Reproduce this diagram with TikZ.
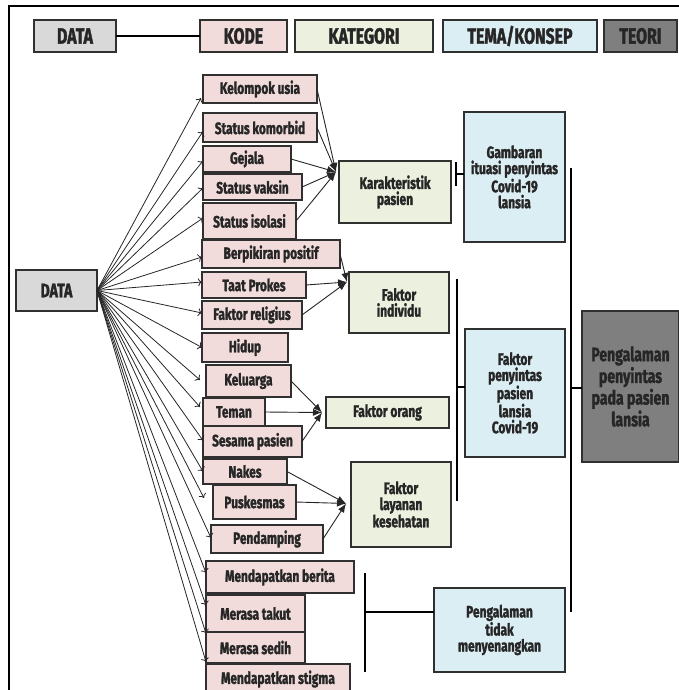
\documentclass[tikz,border=0pt]{standalone}
\usepackage{fontspec}
\setmainfont{Fira Sans}[FakeStretch=0.72, BoldFont=* Bold, BoldFeatures={FakeBold=1.6}]
\usetikzlibrary{arrows.meta,shadows,calc}

\definecolor{inkc}{HTML}{262626}
\definecolor{framec}{HTML}{303030}
\definecolor{datafill}{HTML}{D9D9D9}
\definecolor{kodefill}{HTML}{F2DCDB}
\definecolor{katfill}{HTML}{EBF1DE}
\definecolor{temafill}{HTML}{DBEEF4}
\definecolor{teorifill}{HTML}{7F7F7F}

\newcommand{\fsHead}{\fontsize{22}{24}\selectfont}
\newcommand{\fsData}{\fontsize{19.5}{21}\selectfont}
\newcommand{\fsCode}{\fontsize{16.5}{18}\selectfont}
\newcommand{\fsKat}{\fontsize{16.6}{16}\selectfont}
\newcommand{\fsTeori}{\fontsize{19.5}{21.7}\selectfont}

\tikzset{
  box/.style={draw=framec, line width=1.2pt, anchor=north west,
    inner sep=0pt, outer sep=0pt, align=center, text=inkc,
    drop shadow={shadow xshift=1.4pt, shadow yshift=-1.4pt, opacity=0.3}},
  headbox/.style={box, font=\fsHead\bfseries, minimum height=32pt},
  codebox/.style={box, fill=kodefill, font=\fsCode\bfseries},
  katbox/.style={box, fill=katfill, font=\fsKat\bfseries},
  temabox/.style={box, fill=temafill, font=\fsKat\bfseries},
  dataarrow/.style={draw=black!85, line width=0.8pt, -{To[length=4pt,width=8pt]}},
  katarrow/.style={draw=black!85, line width=0.9pt, -{Latex[length=9pt,width=7pt]}},
  brk/.style={draw=black, line width=1.9pt},
  hline/.style={draw=black, line width=1.3pt},
}

\begin{document}
\begin{tikzpicture}[x=1pt,y=-1pt]
\useasboundingbox (0,0) rectangle (679,690);

% outer frame (left and top edges)
\draw[line width=1.6pt] (9,700) -- (9,6) -- (700,6);

% column headers
\node[headbox, fill=datafill, minimum width=82pt] (hData) at (34,20) {DATA};
\node[headbox, fill=kodefill, minimum width=87pt] (hKode) at (200,20) {KODE};
\node[headbox, fill=katfill, minimum width=138pt] (hKat) at (295,20) {KATEGORI};
\node[headbox, fill=temafill, minimum width=154pt] (hTema) at (443,20) {TEMA/KONSEP};
\node[headbox, fill=teorifill, minimum width=73pt] (hTeori) at (604,20) {TEORI};
\draw[hline] (hData.east) -- (hKode.west);

% data source
\node[box, fill=datafill, font=\fsData\bfseries, minimum width=81pt, minimum height=41pt] (data) at (16,270) {DATA};

% codes
\node[codebox, minimum width=114pt, minimum height=28pt] (k1) at (203,75) {Kelompok usia};
\node[codebox, minimum width=114pt, minimum height=29pt] (k2) at (203,113) {Status komorbid};
\node[codebox, minimum width=88pt, minimum height=26pt] (k3) at (203,146) {Gejala};
\node[codebox, minimum width=99pt, minimum height=26pt] (k4) at (203,174) {Status vaksin};
\node[codebox, minimum width=93pt, minimum height=36pt] (k5) at (203,203) {Status isolasi};
\node[codebox, minimum width=138pt, minimum height=28pt] (k6) at (202,240) {Berpikiran positif};
\node[codebox, minimum width=104pt, minimum height=26pt] (k7) at (202,272) {Taat Prokes};
\node[codebox, minimum width=100pt, minimum height=28pt] (k8) at (202,301) {Faktor religius};
\node[codebox, minimum width=86pt, minimum height=29pt] (k9) at (202,333) {Hidup};
\node[codebox, minimum width=85pt, minimum height=32pt] (k10) at (206,365) {Keluarga};
\node[codebox, minimum width=62pt, minimum height=28pt] (k11) at (203,398) {Teman};
\node[codebox, minimum width=99pt, minimum height=31pt] (k12) at (203,426) {Sesama pasien};
\node[codebox, minimum width=84pt, minimum height=25pt] (k13) at (203,459) {Nakes};
\node[codebox, minimum width=83pt, minimum height=34pt] (k14) at (213,485) {Puskesmas};
\node[codebox, minimum width=112pt, minimum height=28pt] (k15) at (211,525) {Pendamping};
\node[codebox, minimum width=148pt, minimum height=32pt] (k16) at (206,561) {Mendapatkan berita};
\node[codebox, minimum width=99pt, minimum height=37pt] (k17) at (206,595) {Merasa takut};
\node[codebox, minimum width=99pt, minimum height=31pt] (k18) at (206,632) {Merasa sedih};
\node[codebox, minimum width=144pt, minimum height=30pt] (k19) at (206,664) {Mendapatkan stigma};

% categories
\node[katbox, minimum width=112pt, minimum height=62pt] (c1) at (339,161) {Karakteristik\\pasien};
\node[katbox, minimum width=100pt, minimum height=61pt] (c2) at (349,272) {Faktor\\individu};
\node[katbox, minimum width=123pt, minimum height=31pt] (c3) at (326,397) {Faktor orang};
\node[katbox, minimum width=100pt, minimum height=85pt] (c4) at (351,462) {Faktor\\layanan\\kesehatan};

% themes
\node[temabox, minimum width=101pt, minimum height=130pt] (t1) at (464,112) {Gambaran\\ituasi penyintas\\Covid-19\\lansia};
\node[temabox, minimum width=100pt, minimum height=128pt] (t2) at (465,329) {Faktor\\penyintas\\pasien\\lansia\\Covid-19};
\node[temabox, minimum width=131pt, minimum height=84pt] (t3) at (434,588) {Pengalaman\\tidak\\menyenangkan};

% theory
\node[box, fill=teorifill, font=\fsTeori\bfseries, minimum width=97pt, minimum height=151pt] (teori) at (582,311) {Pengalaman\\penyintas\\pada pasien\\lansia};

% data to codes
\foreach \n/\dx/\dy in {k1/-2/9, k2/0/4, k3/0/2, k4/0/1, k5/0/-3, k6/0/3, k7/0/-3,
    k8/0/-2, k9/0/0, k10/-6/-1, k11/-3/-5, k12/0/-1, k13/0/0, k14/-9/-4,
    k15/0/-1, k16/0/-4, k17/0/-8, k18/0/-14, k19/0/-17}
  \draw[dataarrow] (data.east) -- ($(\n.west)+(\dx,\dy)$);

% codes to categories
\coordinate (p1) at ($(c1.north west)+(-3,11)$);
\coordinate (p2) at ($(c2.north west)+(-2,10)$);
\coordinate (p3) at ($(c3.west)+(-4,0)$);
\coordinate (p4) at ($(c4.west)+(-5,-1)$);
\foreach \n in {k1,k2,k3,k4,k5} \draw[katarrow] (\n.east) -- (p1);
\foreach \n in {k6,k7,k8} \draw[katarrow] (\n.east) -- (p2);
\foreach \n in {k10,k11,k12} \draw[katarrow] (\n.east) -- (p3);
\foreach \n in {k13,k14,k15} \draw[katarrow] (\n.east) -- (p4);

% category to theme brackets
\coordinate (b1a) at (456,162);
\coordinate (b1b) at (456,186);
\coordinate (b1m) at (456,174);
\draw[brk] (b1a) -- (b1b);
\draw[brk] (b1m) -- (b1m -| t1.west);

\coordinate (b2a) at (457,279);
\coordinate (b2b) at (457,501);
\coordinate (b2m) at (457,387);
\draw[brk] (b2a) -- (b2b);
\draw[brk] (b2m) -- (b2m -| t2.west);

\coordinate (b3a) at (365,573);
\coordinate (b3b) at (365,672);
\coordinate (b3m) at (365,612);
\draw[brk] (b3a) -- (b3b);
\draw[brk] (b3m) -- (b3m -| t3.west);

% themes to theory bracket
\coordinate (b4a) at (571,168);
\coordinate (b4b) at (571,612);
\coordinate (b4m) at (571,388);
\draw[brk] (b4a) -- (b4b);
\draw[brk] (b4m) -- (b4m -| teori.west);
\end{tikzpicture}
\end{document}
